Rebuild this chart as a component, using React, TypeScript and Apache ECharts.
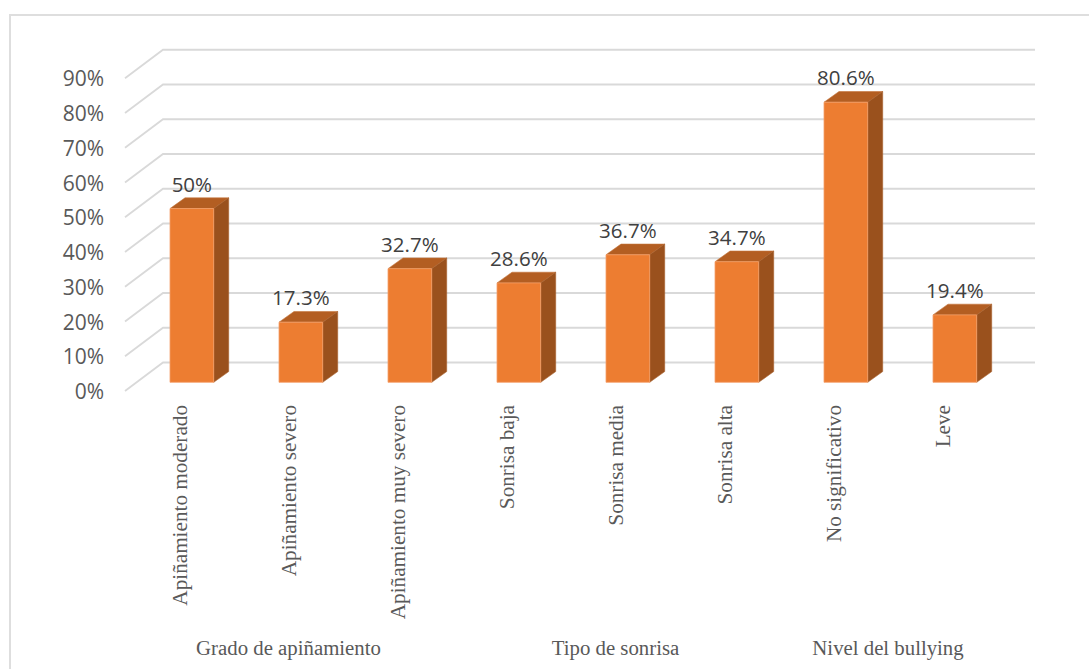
import React, { useEffect, useRef } from "react";
import * as echarts from "echarts";

const categories = [
  "Apiñamiento moderado",
  "Apiñamiento severo",
  "Apiñamiento muy severo",
  "Sonrisa baja",
  "Sonrisa media",
  "Sonrisa alta",
  "No significativo",
  "Leve",
];
const values = [50, 17.3, 32.7, 28.6, 36.7, 34.7, 80.6, 19.4];
const valueLabels = ["50%", "17.3%", "32.7%", "28.6%", "36.7%", "34.7%", "80.6%", "19.4%"];
const yTicks = [0, 10, 20, 30, 40, 50, 60, 70, 80, 90];
const groupNames = ["Grado de apiñamiento", "Tipo de sonrisa", "Nivel del bullying"];
const groupFirst = [0, 3, 6];
const groupLast = [2, 5, 7];

const SANS = "'Open Sans', sans-serif";
const SERIF = "'Liberation Serif', serif";
const GRID = "#D9D9D9";

export default function App() {
  const ref = useRef<HTMLDivElement>(null);
  useEffect(() => {
    const chart = echarts.init(ref.current!, undefined, { renderer: "svg" });
    chart.setOption({
      animation: false,
      backgroundColor: "#fff",
      grid: { left: 125, top: 78.25, width: 872, height: 312.75 },
      graphic: [
        {
          type: "rect",
          shape: { x: 10, y: 15, width: 1200, height: 800 },
          style: { fill: "none", stroke: "#DEDEDE", lineWidth: 2 },
          silent: true,
        },
      ],
      xAxis: {
        type: "category",
        data: categories,
        axisLine: { show: false },
        axisTick: { show: false },
        splitLine: { show: false },
        axisLabel: {
          interval: 0,
          rotate: 90,
          margin: 14,
          fontFamily: SERIF,
          fontSize: 21.2,
          color: "#595959",
        },
      },
      yAxis: {
        type: "value",
        min: 0,
        max: 90,
        interval: 10,
        axisLine: { show: false },
        axisTick: { show: false },
        splitLine: { show: false },
        axisLabel: {
          margin: 21,
          padding: [2, 0, 0, 0],
          fontFamily: SANS,
          fontSize: 21,
          color: "#595959",
          formatter: (v: number) => `${v}%`,
        },
      },
      series: [
        {
          type: "custom",
          silent: true,
          z: 1,
          data: yTicks.map((v) => [0, v]),
          encode: { x: 0, y: 1 },
          renderItem: (_: any, api: any) => {
            const c = api.coord([0, api.value(1)]);
            const band = api.size([1, 0])[0];
            const start = [c[0] - band / 2, c[1]];
            const bx = start[0] + 38;
            const by = start[1] - 28.5;
            return {
              type: "polyline",
              shape: { points: [start, [bx, by], [bx + 872, by]] },
              style: { fill: "none", stroke: GRID, lineWidth: 1.8 },
            };
          },
        },
        {
          type: "custom",
          silent: true,
          z: 2,
          data: values.map((v, i) => [i, v]),
          encode: { x: 0, y: 1 },
          renderItem: (_: any, api: any) => {
            const ox = 12.35;
            const oy = -8.7;
            const w = 43.7;
            const dx = 15;
            const dy = 10.7;
            const i = api.value(0);
            const top = api.coord([i, api.value(1)]);
            const base = api.coord([i, 0]);
            const l = top[0] + ox - w / 2;
            const r = l + w;
            const t = top[1] + oy;
            const b = base[1] + oy;
            return {
              type: "group",
              children: [
                {
                  type: "polygon",
                  shape: { points: [[l, t], [r, t], [r + dx, t - dy], [l + dx, t - dy]] },
                  style: { fill: "#B35E22", stroke: "#C4733B", lineWidth: 0.6 },
                },
                {
                  type: "polygon",
                  shape: { points: [[r, t], [r + dx, t - dy], [r + dx, b - dy], [r, b]] },
                  style: { fill: "#9A511D", stroke: "#A8602C", lineWidth: 0.6 },
                },
                {
                  type: "rect",
                  shape: { x: l, y: t, width: w, height: b - t },
                  style: { fill: "#ED7D31", stroke: "#F4A06A", lineWidth: 0.8 },
                },
                {
                  type: "text",
                  style: {
                    x: l + w / 2,
                    y: t - 25,
                    text: valueLabels[i],
                    align: "center",
                    verticalAlign: "middle",
                    fontFamily: SANS,
                    fontSize: 20.5,
                    fill: "#404040",
                  },
                },
              ],
            };
          },
        },
        {
          type: "custom",
          silent: true,
          z: 3,
          data: groupFirst.map((f, i) => [f, groupLast[i]]),
          encode: { x: 0 },
          renderItem: (p: any, api: any) => {
            const a = api.coord([groupFirst[p.dataIndex], 0]);
            const b = api.coord([groupLast[p.dataIndex], 0]);
            return {
              type: "text",
              style: {
                x: (a[0] + b[0]) / 2,
                y: a[1] + 256,
                text: groupNames[p.dataIndex],
                align: "center",
                verticalAlign: "middle",
                fontFamily: SERIF,
                fontSize: 20.8,
                fill: "#595959",
              },
            };
          },
        },
      ],
    });
    return () => chart.dispose();
  }, []);
  return (
    <div
      ref={ref}
      style={{ position: "fixed", left: 0, top: 0, width: 1089, height: 669 }}
    />
  );
}
